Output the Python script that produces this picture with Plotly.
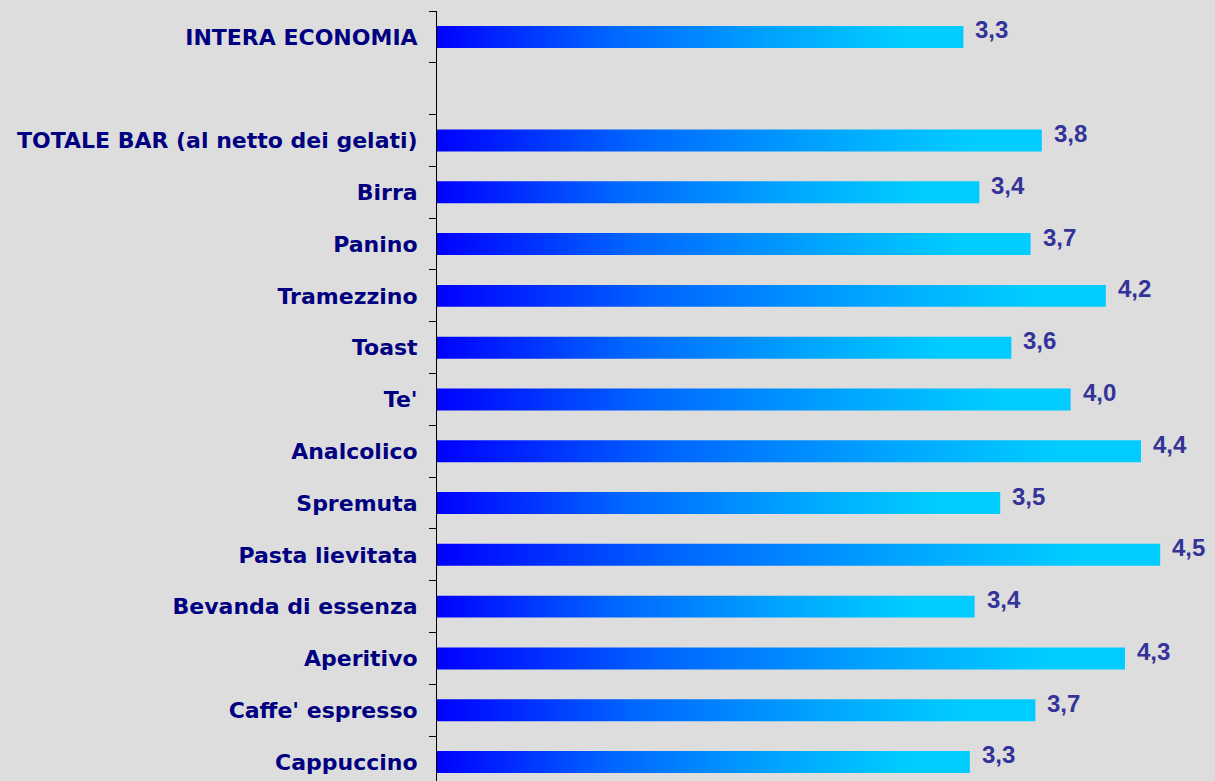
import plotly.graph_objects as go

# ---- data (top to bottom; "" is the empty slot in the original chart) ----
categories = [
    "INTERA ECONOMIA",
    "",
    "TOTALE BAR (al netto dei gelati)",
    "Birra",
    "Panino",
    "Tramezzino",
    "Toast",
    "Te'",
    "Analcolico",
    "Spremuta",
    "Pasta lievitata",
    "Bevanda di essenza",
    "Aperitivo",
    "Caffe' espresso",
    "Cappuccino",
]
values = [3.29, None, 3.78, 3.39, 3.71, 4.18, 3.59, 3.96, 4.40, 3.52, 4.52, 3.36, 4.30, 3.74, 3.33]

# ---- style ----
BG = "#DDDDDD"
CAT_COLOR = "#000080"
VAL_COLOR = "#333399"
GRADIENT = [[0.0, "#0000FF"], [0.33, "#0066FF"], [0.66, "#00A8FF"], [0.88, "#00CCFF"], [1.0, "#00CCFF"]]
HALF = 0.212  # half bar thickness in category units

fig = go.Figure()
positions = list(range(len(categories)))

for pos, val in zip(positions, values):
    if val is None:
        continue
    fig.add_trace(go.Scatter(
        x=[0, val, val, 0, 0],
        y=[pos - HALF, pos - HALF, pos + HALF, pos + HALF, pos - HALF],
        mode="lines",
        line=dict(width=0),
        fill="toself",
        fillgradient=dict(type="horizontal", colorscale=GRADIENT, start=0, stop=val),
        hoverinfo="skip",
        showlegend=False,
    ))
    fig.add_annotation(
        x=val, y=pos, xref="x", yref="y",
        text=f"{val:.1f}".replace(".", ","),
        showarrow=False, xanchor="left", yanchor="middle",
        xshift=10, yshift=7,
        font=dict(family="Liberation Sans, Arial", size=24, color=VAL_COLOR, weight="bold"),
    )

n = len(categories)
fig.update_layout(
    width=1215, height=781,
    margin=dict(l=437, r=0, t=11, b=0),
    paper_bgcolor=BG, plot_bgcolor=BG,
    showlegend=False,
    xaxis=dict(range=[0, 4.8625], visible=False, fixedrange=True),
    yaxis=dict(
        range=[n - 1 + 0.367, -0.5],
        tickmode="array", tickvals=positions, ticktext=categories,
        ticks="", showgrid=False, zeroline=False,
        showline=True, linecolor="#000000", linewidth=1,
        tickfont=dict(family="DejaVu Sans", size=22, color=CAT_COLOR, weight="bold"),
        ticklabelstandoff=14,
        automargin=False,
        fixedrange=True,
        minor=dict(tickmode="array", tickvals=[p - 0.5 for p in positions],
                   ticks="outside", ticklen=7, tickcolor="#000000", tickwidth=1, showgrid=False),
    ),
)

fig.write_html(
    "out.html",
    config={"displayModeBar": False},
    post_script="document.body.style.margin='0';document.body.style.background='#DDDDDD';",
)
